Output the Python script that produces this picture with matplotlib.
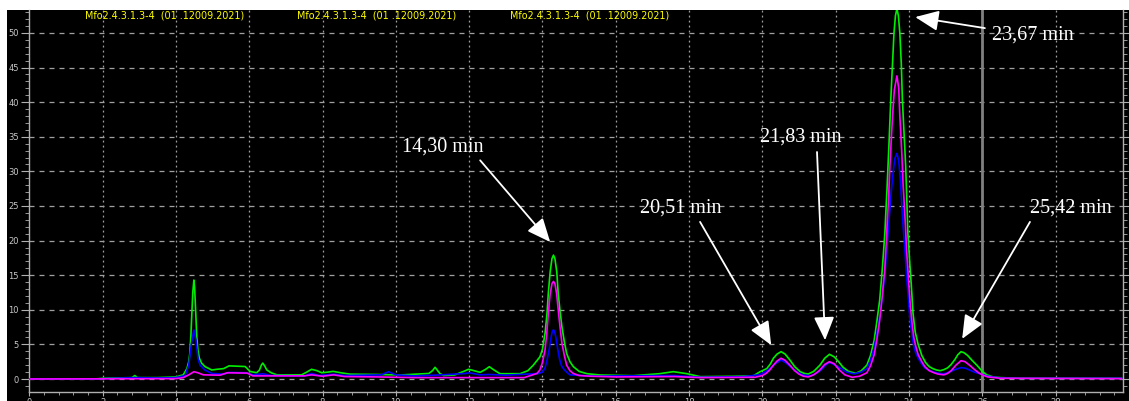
import matplotlib.pyplot as plt
from matplotlib.patches import Rectangle
from matplotlib.ticker import MultipleLocator

### Chromatogram traces (time in min, signal).
t_green = [0.0, 1.8, 2.0, 2.8, 2.88, 2.95, 3.5, 4.0, 4.2, 4.3, 4.35, 4.38, 4.41, 4.43, 4.46,
           4.49, 4.51, 4.53, 4.55, 4.57, 4.6, 4.64, 4.7, 4.79, 4.98, 5.11, 5.3, 5.45, 5.89,
           6.02, 6.2, 6.28, 6.33, 6.37, 6.42, 6.48, 6.6, 6.75, 7.43, 7.57, 7.7, 7.85, 7.98,
           8.15, 8.29, 8.5, 8.75, 9.5, 10.11, 10.9, 11.0, 11.07, 11.14, 11.2, 11.3, 11.6,
           11.85, 11.98, 12.1, 12.3, 12.45, 12.55, 12.65, 12.84, 13.39, 13.6, 13.75, 13.93,
           14.0, 14.07, 14.12, 14.16, 14.21, 14.26, 14.30, 14.34, 14.39, 14.43, 14.48, 14.53,
           14.6, 14.66, 14.75, 14.84, 15.0, 15.21, 15.57, 16.48, 17.2, 17.57, 17.94, 18.3,
           19.2, 19.75, 19.94, 20.12, 20.22, 20.3, 20.4, 20.51, 20.62, 20.75, 20.88, 21.03,
           21.15, 21.25, 21.4, 21.57, 21.7, 21.83, 21.96, 22.08, 22.2, 22.35, 22.55, 22.7,
           22.85, 22.95, 23.05, 23.12, 23.2, 23.27, 23.34, 23.4, 23.45, 23.5, 23.55, 23.59,
           23.63, 23.67, 23.71, 23.75, 23.79, 23.82, 23.87, 23.91, 23.94, 23.97, 24.02, 24.06,
           24.11, 24.17, 24.25, 24.35, 24.45, 24.55, 24.65, 24.75, 24.85, 24.95, 25.05, 25.15,
           25.25, 25.33, 25.42, 25.5, 25.6, 25.72, 25.85, 26.0, 26.12, 26.3, 26.5, 27.0, 29.8]
green = [0.0, 0.0, 0.1, 0.2, 0.5, 0.2, 0.2, 0.3, 0.6, 1.5, 2.5, 3.7, 6.5, 9.0, 12.5,
         14.3, 13.2, 11.0, 8.5, 6.0, 4.2, 3.0, 2.3, 1.8, 1.3, 1.4, 1.5, 1.9, 1.8,
         1.1, 0.9, 1.3, 2.0, 2.3, 1.9, 1.3, 0.9, 0.6, 0.6, 1.0, 1.4, 1.2, 0.9,
         1.0, 1.1, 0.9, 0.7, 0.65, 0.58, 0.8, 1.2, 1.69, 1.2, 0.8, 0.5, 0.58,
         1.1, 1.4, 1.25, 0.96, 1.4, 1.78, 1.4, 0.77, 0.77, 1.2, 2.0, 3.2,
         4.3, 6.6, 9.2, 12.4, 15.5, 17.4, 17.9, 17.4, 15.5, 12.4, 9.8, 7.6,
         5.3, 3.7, 2.5, 1.8, 1.1, 0.77, 0.58, 0.48, 0.77, 1.06, 0.77, 0.34,
         0.39, 0.45, 1.06, 1.5, 2.2, 3.0, 3.6, 3.95, 3.6, 2.75, 1.8, 1.06,
         0.8, 0.72, 1.1, 2.0, 3.0, 3.57, 3.2, 2.5, 1.7, 1.1, 0.82, 1.2,
         2.0, 3.4, 5.6, 8.2, 11.4, 15.8, 21.0, 27.5, 33.5, 40.0, 45.5, 50.0,
         52.5, 53.5, 52.5, 50.0, 45.5, 40.3, 35.0, 30.7, 26.0, 21.1, 16.8, 13.8,
         9.5, 6.8, 5.0, 3.4, 2.4, 1.8, 1.5, 1.3, 1.2, 1.35, 1.6, 2.1,
         2.8, 3.5, 3.95, 3.8, 3.4, 2.7, 2.0, 1.1, 0.6, 0.3, 0.2, 0.1, 0.1]

t_blue = [0.0, 1.8, 2.0, 2.88, 3.5, 4.0, 4.25, 4.35, 4.42, 4.49, 4.55, 4.6, 4.66, 4.79,
          4.98, 5.3, 5.45, 5.9, 6.1, 6.37, 6.6, 7.5, 7.7, 7.9, 8.3, 8.6, 9.6, 9.8, 10.0,
          10.5, 11.07, 11.9, 12.0, 12.3, 12.55, 13.0, 13.9, 14.0, 14.07, 14.12, 14.18, 14.23,
          14.27, 14.30, 14.33, 14.37, 14.42, 14.47, 14.52, 14.6, 14.68, 14.75, 15.5, 16.0,
          17.6, 18.3, 19.5, 19.9, 20.05, 20.2, 20.35, 20.51, 20.65, 20.8, 20.95, 21.1, 21.3,
          21.45, 21.6, 21.72, 21.83, 21.95, 22.15, 22.3, 22.5, 22.7, 22.85, 22.95, 23.05,
          23.12, 23.2, 23.27, 23.34, 23.39, 23.44, 23.5, 23.55, 23.61, 23.67, 23.72, 23.76,
          23.8, 23.84, 23.89, 23.93, 23.98, 24.02, 24.07, 24.12, 24.18, 24.25, 24.34, 24.43,
          24.55, 24.68, 24.8, 24.9, 25.0, 25.1, 25.25, 25.42, 25.55, 25.65, 25.78, 25.9,
          26.02, 26.15, 26.5, 27.0, 29.8]
blue = [0.0, 0.0, 0.05, 0.2, 0.15, 0.2, 0.5, 2.0, 5.0, 7.1, 5.5, 3.0, 2.0, 1.3,
        0.8, 0.7, 0.95, 0.9, 0.6, 0.75, 0.5, 0.45, 0.8, 0.5, 0.7, 0.5, 0.6, 1.05, 0.6,
        0.45, 0.55, 0.8, 0.9, 0.6, 0.65, 0.55, 0.8, 1.0, 1.6, 2.6, 4.2, 5.9,
        6.9, 7.1, 6.9, 5.9, 4.2, 2.8, 1.9, 1.3, 0.9, 0.6, 0.4, 0.45,
        0.5, 0.25, 0.35, 0.6, 0.95, 1.5, 2.2, 2.75, 2.3, 1.6, 1.0, 0.6, 0.45,
        0.75, 1.3, 2.0, 2.4, 2.1, 1.5, 1.0, 0.75, 1.0, 1.5, 2.7, 4.5,
        6.5, 9.0, 11.8, 15.0, 18.5, 22.0, 26.0, 29.0, 31.8, 32.6, 31.5, 29.0,
        25.5, 22.0, 18.5, 15.0, 11.8, 9.0, 6.8, 5.0, 3.8, 3.0, 2.2, 1.6,
        1.25, 1.0, 0.85, 0.75, 0.8, 1.0, 1.35, 1.65, 1.55, 1.3, 1.0, 0.8,
        0.6, 0.4, 0.15, 0.1, 0.1]

t_magenta = [0.0, 4.0, 4.2, 4.35, 4.49, 4.6, 4.75, 5.2, 5.4, 5.95, 6.1, 7.5, 7.7, 8.0, 8.3,
             8.6, 9.5, 10.5, 13.5, 13.85, 13.93, 14.0, 14.07, 14.12, 14.16, 14.21, 14.26,
             14.30, 14.34, 14.39, 14.43, 14.48, 14.53, 14.6, 14.66, 14.75, 14.84, 15.0, 15.3,
             16.0, 17.6, 18.3, 19.8, 20.0, 20.1, 20.2, 20.3, 20.4, 20.51, 20.62, 20.75, 20.88,
             21.0, 21.12, 21.25, 21.4, 21.55, 21.7, 21.83, 21.96, 22.1, 22.25, 22.45, 22.65,
             22.85, 22.95, 23.05, 23.12, 23.2, 23.27, 23.34, 23.39, 23.44, 23.49, 23.55, 23.6,
             23.67, 23.72, 23.75, 23.8, 23.84, 23.89, 23.93, 23.98, 24.03, 24.08, 24.13, 24.19,
             24.25, 24.35, 24.43, 24.55, 24.68, 24.8, 24.95, 25.05, 25.15, 25.28, 25.42, 25.53,
             25.65, 25.78, 25.9, 26.02, 26.15, 26.5, 29.8]
magenta = [0.0, 0.05, 0.2, 0.6, 1.05, 0.9, 0.6, 0.55, 0.9, 0.85, 0.45, 0.45, 0.6, 0.4, 0.6,
           0.35, 0.3, 0.2, 0.2, 0.8, 1.3, 2.4, 4.2, 6.8, 9.5, 12.3, 13.8,
           14.1, 13.8, 12.2, 10.0, 7.5, 5.2, 3.3, 2.0, 1.2, 0.8, 0.5, 0.4,
           0.3, 0.35, 0.2, 0.25, 0.5, 0.8, 1.3, 2.0, 2.6, 3.0, 2.7, 2.0, 1.2,
           0.7, 0.4, 0.3, 0.6, 1.2, 2.1, 2.5, 2.2, 1.3, 0.6, 0.25, 0.4,
           0.9, 1.9, 3.5, 5.6, 8.5, 12.0, 16.0, 21.0, 26.0, 32.0, 38.0, 41.8,
           43.8, 42.0, 38.0, 33.0, 28.0, 23.5, 19.0, 14.8, 11.0, 8.2, 6.0, 4.6,
           3.5, 2.5, 1.8, 1.2, 0.9, 0.7, 0.6, 0.8, 1.2, 2.0, 2.65, 2.5,
           2.0, 1.4, 0.9, 0.55, 0.3, 0.1, 0.05]

### Peak annotations: label, text position, arrow tail, arrow tip.
peak_labels = ['14,30 min', '20,51 min', '21,83 min', '23,67 min', '25,42 min']
text_xy = [(10.17, 33.5), (16.66, 24.7), (19.94, 35.0), (26.27, 49.7), (27.3, 24.7)]
tail_xy = [(12.3, 31.6), (18.3, 22.7), (21.49, 32.8), (26.07, 50.7), (27.3, 22.7)]
tip_xy = [(14.21, 19.8), (20.24, 4.9), (21.71, 5.6), (24.17, 52.3), (25.45, 5.8)]

header = 'Mfo2.4.3.1.3-4  (01 .12009.2021)'
header_x = [85, 297, 510]

# Set up figure.
W, H = 1129, 401
fig = plt.figure(figsize=(W / 100, H / 100), dpi=100, facecolor='white')
fig.patches.append(Rectangle((7 / W, 0), 1, 391 / H, transform=fig.transFigure,
                             facecolor='black', edgecolor='none', zorder=-10))
ax = fig.add_axes([29.3 / W, 9.3 / H, (1122.7 - 29.3) / W, (391.7 - 10) / H])
ax.set_zorder(1)
ax.set_facecolor('black')
ax.set_xlim(0, 29.83)
ax.set_ylim(-1.835, 53.32)

ax.spines['top'].set_visible(False)
for s in ['left', 'bottom', 'right']:
    ax.spines[s].set_color('#b0b0b0')
    ax.spines[s].set_linewidth(1.0)

ax.xaxis.set_major_locator(MultipleLocator(2))
ax.xaxis.set_minor_locator(MultipleLocator(0.4))
ax.yaxis.set_major_locator(MultipleLocator(5))
ax.yaxis.set_minor_locator(MultipleLocator(1))
ax.tick_params(axis='both', which='both', colors='#b0b0b0', labelcolor='#c8c8c8',
               labelsize=6, direction='out')
ax.tick_params(axis='y', which='major', length=6, pad=1.5, right=True)
ax.tick_params(axis='y', which='minor', length=3, right=True)
ax.tick_params(axis='x', which='major', length=3, pad=1.5)
ax.tick_params(axis='x', which='minor', length=2)

# Grid.
for gx in range(2, 30, 2):
    ax.axvline(gx, color='#a0a0a0', lw=0.9, ls=(0, (1.5, 2.5)), zorder=1)
for gy in range(0, 55, 5):
    ax.axhline(gy, color='#a0a0a0', lw=0.9, ls=(0, (4, 4)), zorder=1)
ax.axvline(26, color='#808080', lw=2.0, zorder=1)

# Traces.
ax.plot(t_green, green, color='#00ee00', lw=1.2, zorder=3)
ax.plot(t_blue, blue, color='#0000ff', lw=1.2, zorder=4)
ax.plot(t_magenta, magenta, color='#ff00ff', lw=1.2, zorder=5)

# Peak labels with arrows.
for lab, txy, a0, a1 in zip(peak_labels, text_xy, tail_xy, tip_xy):
    ax.text(txy[0], txy[1], lab, color='white', fontsize=14.5, family='Liberation Serif',
            ha='left', va='center', zorder=6)
    ax.annotate('', xy=a1, xytext=a0,
                arrowprops=dict(arrowstyle='-|>,head_length=0.8,head_width=0.35',
                                color='white', lw=1.3, mutation_scale=18,
                                shrinkA=0, shrinkB=0), zorder=6)

# Trace headers.
for hx in header_x:
    fig.text(hx / W, 1 - 16 / H, header, color='#ffff00', fontsize=6.9,
             ha='left', va='center', zorder=2)

fig.savefig('out.png', dpi=100, facecolor='white')
